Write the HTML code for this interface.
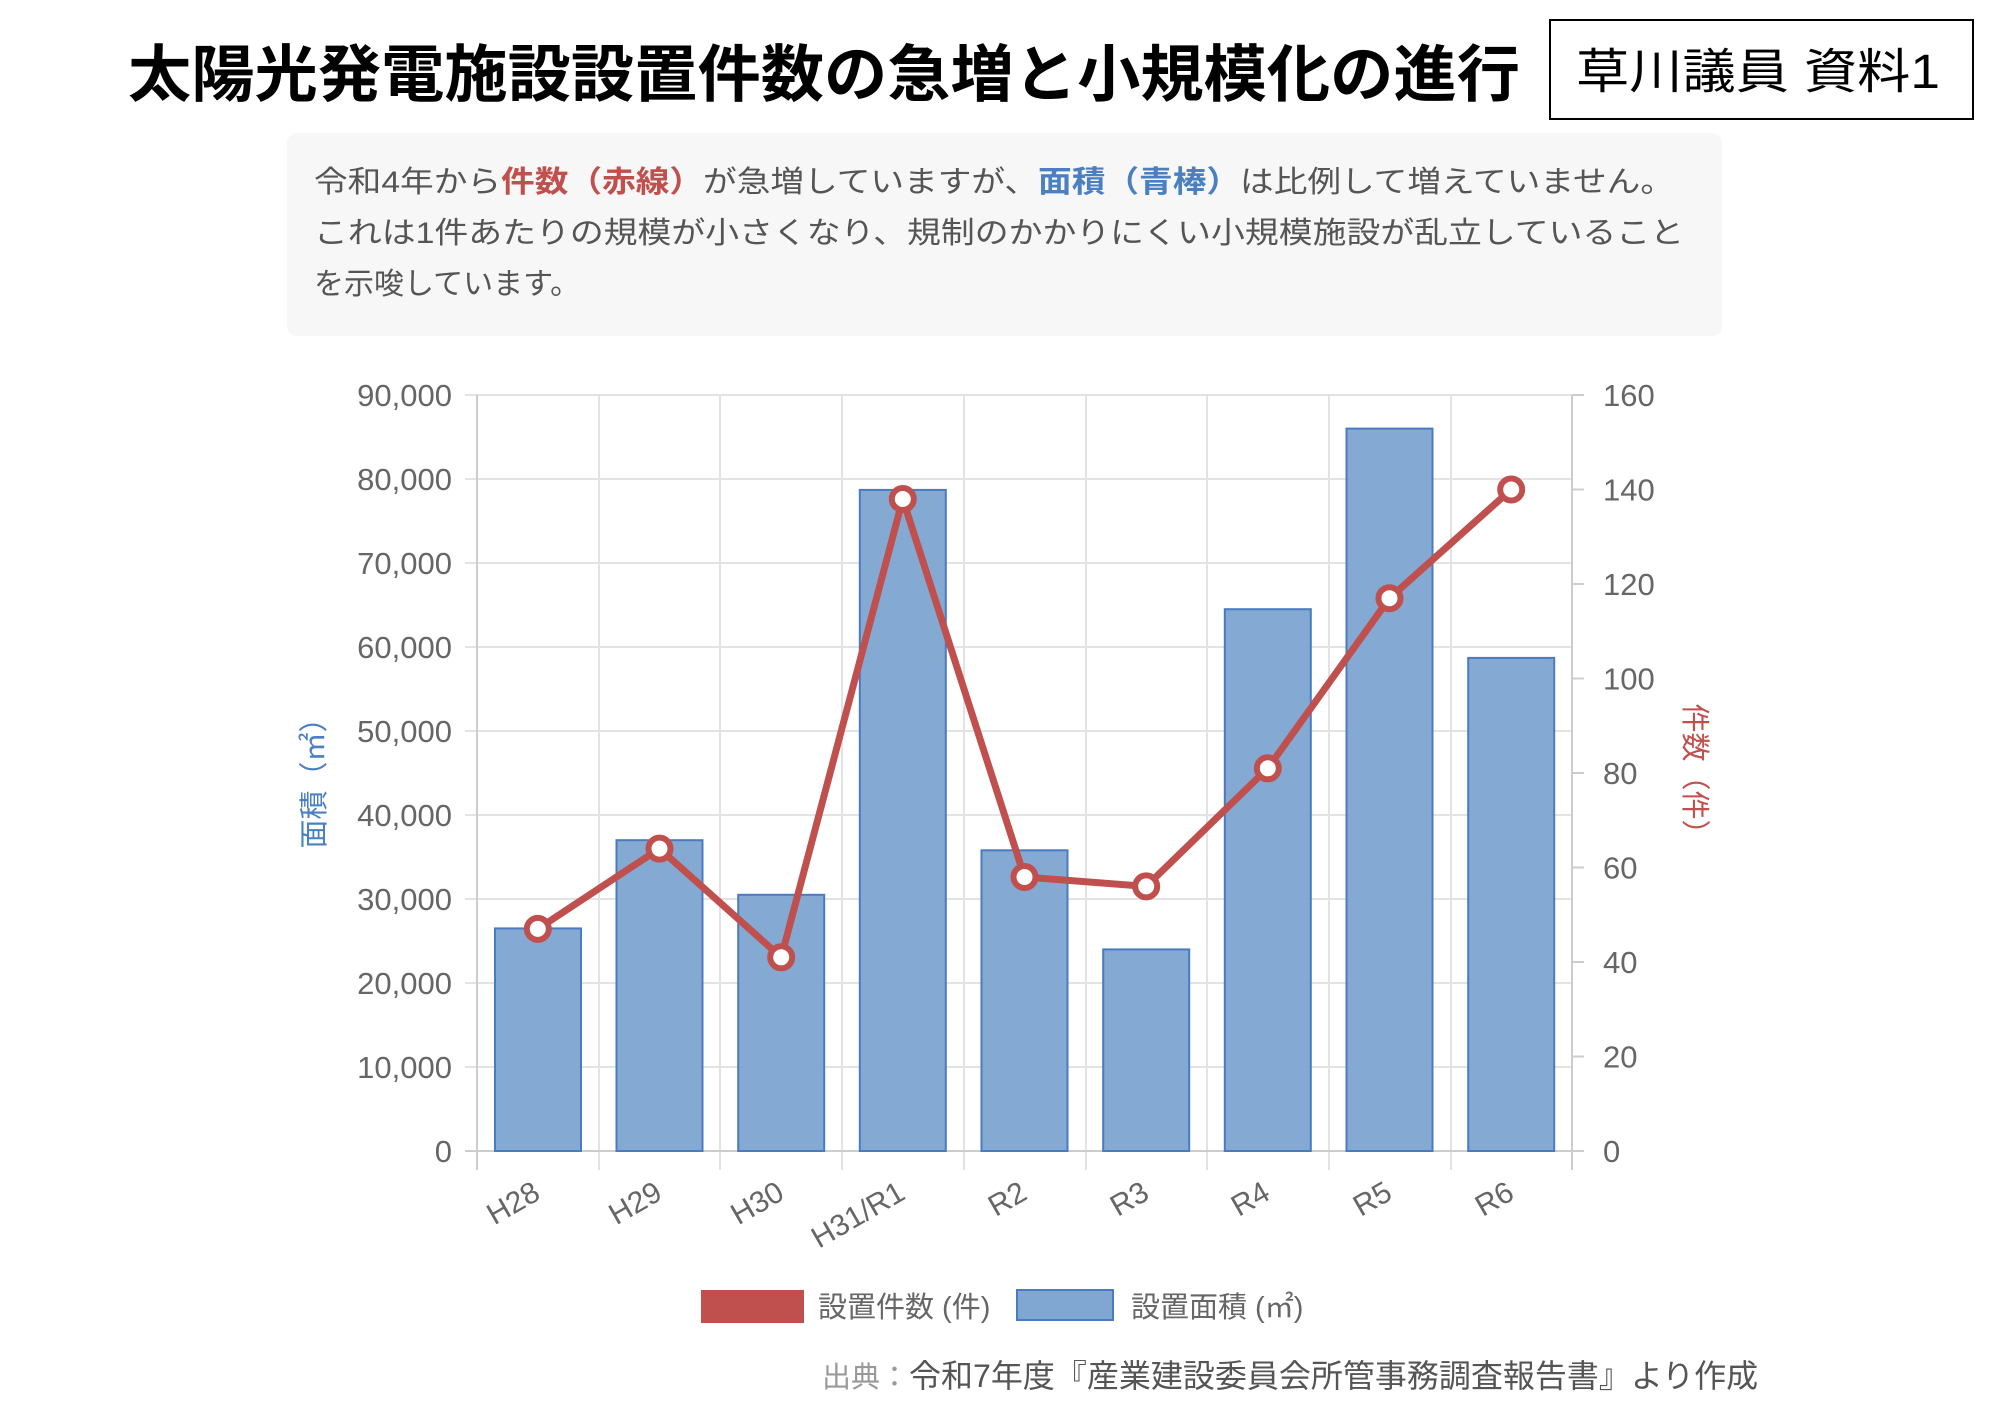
<!DOCTYPE html>
<html><head><meta charset="utf-8"><style>
html,body{margin:0;padding:0;background:#fff;}
svg{display:block;font-family:"Liberation Sans","Noto Sans CJK JP",sans-serif;}
</style></head><body>
<svg width="2000" height="1414" viewBox="0 0 2000 1414" xmlns="http://www.w3.org/2000/svg">
<rect width="2000" height="1414" fill="#fff"/>
<text x="128" y="96" font-size="62" font-weight="bold" fill="#000" textLength="1392" lengthAdjust="spacingAndGlyphs">太陽光発電施設設置件数の急増と小規模化の進行</text>
<rect x="1550" y="20" width="423" height="99" fill="#fff" stroke="#000" stroke-width="2"/>
<text x="1576" y="88" font-size="48" fill="#000" textLength="364" lengthAdjust="spacingAndGlyphs">草川議員 資料1</text>
<rect x="287" y="133" width="1435" height="203" rx="10" fill="#f7f7f7"/>
<g font-size="30" fill="#555">
<text x="314" y="192" textLength="1360" lengthAdjust="spacingAndGlyphs">令和4年から<tspan fill="#c0504d" font-weight="bold">件数（赤線）</tspan>が急増していますが、<tspan fill="#4a7fc1" font-weight="bold">面積（青棒）</tspan>は比例して増えていません。</text>
<text x="314" y="243" textLength="1370" lengthAdjust="spacingAndGlyphs">これは1件あたりの規模が小さくなり、規制のかかりにくい小規模施設が乱立していること</text>
<text x="314" y="294">を示唆しています。</text>
</g>
<g stroke="#e3e3e3" stroke-width="2">
<line x1="465" y1="395" x2="1572" y2="395"/><line x1="465" y1="479" x2="1572" y2="479"/><line x1="465" y1="563" x2="1572" y2="563"/><line x1="465" y1="647" x2="1572" y2="647"/><line x1="465" y1="731" x2="1572" y2="731"/><line x1="465" y1="815" x2="1572" y2="815"/><line x1="465" y1="899" x2="1572" y2="899"/><line x1="465" y1="983" x2="1572" y2="983"/><line x1="465" y1="1067" x2="1572" y2="1067"/>
<line x1="599" y1="395" x2="599" y2="1170"/><line x1="720" y1="395" x2="720" y2="1170"/><line x1="842" y1="395" x2="842" y2="1170"/><line x1="964" y1="395" x2="964" y2="1170"/><line x1="1086" y1="395" x2="1086" y2="1170"/><line x1="1207" y1="395" x2="1207" y2="1170"/><line x1="1329" y1="395" x2="1329" y2="1170"/><line x1="1451" y1="395" x2="1451" y2="1170"/>
</g>
<g stroke="#ccc" stroke-width="2">
<line x1="477" y1="395" x2="477" y2="1170"/><line x1="1572" y1="395" x2="1572" y2="1170"/><line x1="465" y1="1151" x2="1584" y2="1151"/>
<line x1="1572" y1="395" x2="1584" y2="395"/><line x1="1572" y1="489.5" x2="1584" y2="489.5"/><line x1="1572" y1="584" x2="1584" y2="584"/><line x1="1572" y1="678.5" x2="1584" y2="678.5"/><line x1="1572" y1="773" x2="1584" y2="773"/><line x1="1572" y1="867.5" x2="1584" y2="867.5"/><line x1="1572" y1="962" x2="1584" y2="962"/><line x1="1572" y1="1056.5" x2="1584" y2="1056.5"/>
</g>
<g fill="#80a6d2" fill-opacity="0.97" stroke="#4a7bc0" stroke-width="2">
<rect x="495" y="928.4" width="86" height="222.6"/>
<rect x="616.5" y="840.2" width="86" height="310.8"/>
<rect x="738.2" y="894.8" width="86" height="256.2"/>
<rect x="859.8" y="489.9" width="86" height="661.1"/>
<rect x="981.5" y="850.3" width="86" height="300.7"/>
<rect x="1103.2" y="949.4" width="86" height="201.6"/>
<rect x="1224.8" y="609.2" width="86" height="541.8"/>
<rect x="1346.5" y="428.6" width="86" height="722.4"/>
<rect x="1468.2" y="657.9" width="86" height="493.1"/>
</g>
<polyline fill="none" stroke="#c0504d" stroke-width="7" stroke-linejoin="round" points="537.8,928.9 659.5,848.6 781.2,957.3 902.8,499 1024.5,877 1146.2,886.4 1267.8,768.3 1389.5,598.2 1511.2,489.5"/>
<g fill="#fff" stroke="#c0504d" stroke-width="6">
<circle cx="537.8" cy="928.9" r="11"/><circle cx="659.5" cy="848.6" r="11"/><circle cx="781.2" cy="957.3" r="11"/><circle cx="902.8" cy="499" r="11"/><circle cx="1024.5" cy="877" r="11"/><circle cx="1146.2" cy="886.4" r="11"/><circle cx="1267.8" cy="768.3" r="11"/><circle cx="1389.5" cy="598.2" r="11"/><circle cx="1511.2" cy="489.5" r="11"/>
</g>
<g font-size="31" fill="#666" text-anchor="end">
<text x="452" y="406">90,000</text><text x="452" y="490">80,000</text><text x="452" y="574">70,000</text><text x="452" y="658">60,000</text><text x="452" y="742">50,000</text><text x="452" y="826">40,000</text><text x="452" y="910">30,000</text><text x="452" y="994">20,000</text><text x="452" y="1078">10,000</text><text x="452" y="1162">0</text>
</g>
<g font-size="31" fill="#666">
<text x="1603" y="406">160</text><text x="1603" y="500.5">140</text><text x="1603" y="595">120</text><text x="1603" y="689.5">100</text><text x="1603" y="784">80</text><text x="1603" y="878.5">60</text><text x="1603" y="973">40</text><text x="1603" y="1067.5">20</text><text x="1603" y="1162">0</text>
</g>
<g font-size="30" fill="#666" text-anchor="end">
<text transform="translate(542,1198) rotate(-30)">H28</text>
<text transform="translate(664,1198) rotate(-30)">H29</text>
<text transform="translate(786,1198) rotate(-30)">H30</text>
<text transform="translate(907,1198) rotate(-30)">H31/R1</text>
<text transform="translate(1029,1198) rotate(-30)">R2</text>
<text transform="translate(1151,1198) rotate(-30)">R3</text>
<text transform="translate(1272,1198) rotate(-30)">R4</text>
<text transform="translate(1394,1198) rotate(-30)">R5</text>
<text transform="translate(1516,1198) rotate(-30)">R6</text>
</g>
<text transform="translate(324,776) rotate(-90)" font-size="29" fill="#4a7fc1" text-anchor="middle">面積（㎡）</text>
<text transform="translate(1685,776) rotate(90)" font-size="29" fill="#c0504d" text-anchor="middle">件数（件）</text>
<rect x="701" y="1290" width="103" height="33" fill="#c0504d"/>
<text x="818" y="1317" font-size="29" fill="#666">設置件数 (件)</text>
<rect x="1017" y="1290" width="96" height="30" fill="#80a6d2" stroke="#4a7bc0" stroke-width="2"/>
<text x="1131" y="1317" font-size="29" fill="#666">設置面積 (㎡)</text>
<text x="822" y="1387" font-size="29" fill="#999">出典：<tspan fill="#555" font-size="32">令和7年度『産業建設委員会所管事務調査報告書』より作成</tspan></text>
</svg>
</body></html>
